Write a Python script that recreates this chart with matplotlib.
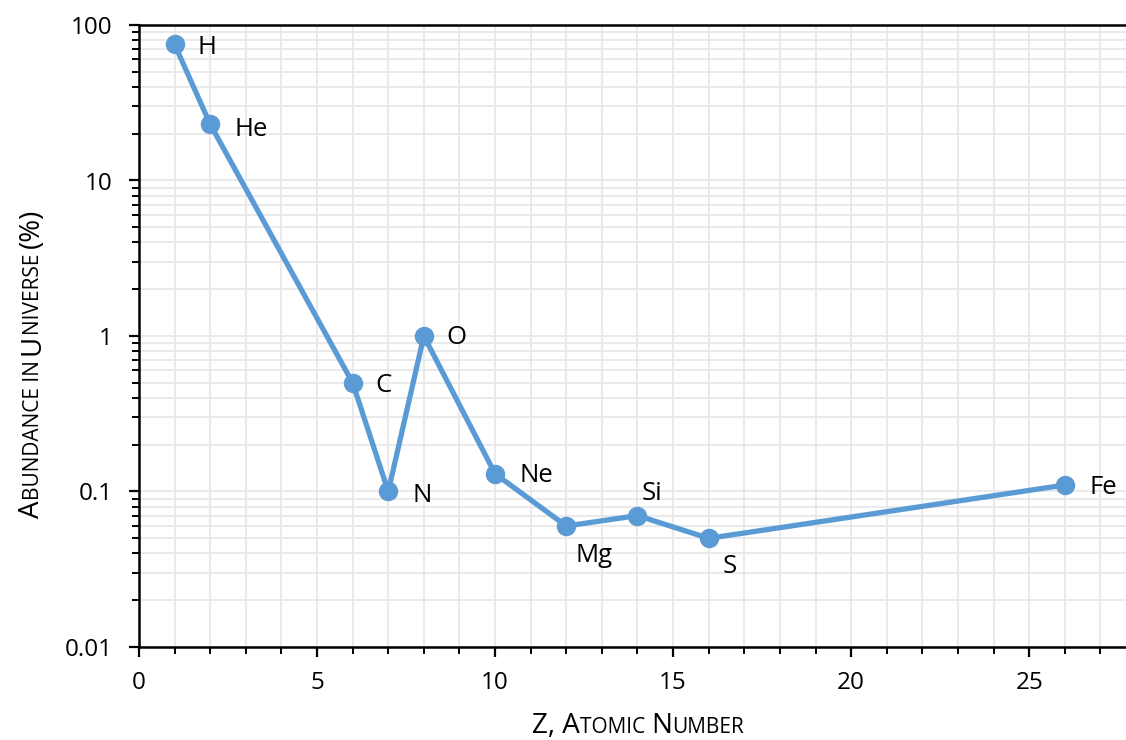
import matplotlib
matplotlib.use("Agg")
import matplotlib.pyplot as plt
from matplotlib.ticker import MultipleLocator, LogLocator, FixedLocator, FixedFormatter, NullFormatter

plt.rcParams['font.family'] = ['Open Sans', 'DejaVu Sans']

# Data
elements = ["H", "He", "C", "N", "O", "Ne", "Mg", "Si", "S", "Fe"]
atomic_number = [1, 2, 6, 7, 8, 10, 12, 14, 16, 26]
abundance = [75, 23, 0.5, 0.1, 1.0, 0.13, 0.06, 0.07, 0.05, 0.11]
y_tick_values = [0.01, 0.1, 1, 10, 100]
y_tick_labels = ["0.01", "0.1", "1", "10", "100"]

# label offsets in pixels (dx, dy up), styles only
label_offsets = {
    "H": (23, -3), "He": (24, -5), "C": (23, -3), "N": (24, -4), "O": (23, -2),
    "Ne": (24, -2), "Mg": (9, -30), "Si": (4, 22), "S": (14, -28), "Fe": (25, -2),
}

W, H = 1126, 740
fig = plt.figure(figsize=(W / 100, H / 100), dpi=100)
ax = fig.add_axes([139 / W, 1 - 647 / H, (1126 - 139) / W, (647 - 25) / H])

color = "#5B9BD5"
ax.plot(atomic_number, abundance, color=color, lw=3.8, marker="o", markersize=13,
        solid_capstyle="round", solid_joinstyle="round", zorder=3, clip_on=False)

for el, xv, yv in zip(elements, atomic_number, abundance):
    dx, dy = label_offsets[el]
    ax.annotate(el, (xv, yv), xytext=(dx * 0.72, dy * 0.72), textcoords="offset points",
                ha="left", va="center", fontsize=18.5, color="black", zorder=4)

ax.set_yscale("log")
ax.set_ylim(0.01, 100)
ax.set_xlim(0, 27.72)

ax.xaxis.set_major_locator(MultipleLocator(5))
ax.xaxis.set_minor_locator(MultipleLocator(1))
ax.yaxis.set_major_locator(FixedLocator(y_tick_values))
ax.yaxis.set_major_formatter(FixedFormatter(y_tick_labels))
ax.yaxis.set_minor_locator(LogLocator(base=10, subs=range(2, 10)))
ax.yaxis.set_minor_formatter(NullFormatter())

ax.grid(True, which="both", color="#e8e8e8", lw=1.3, zorder=0)
ax.set_axisbelow(True)

for s in ["left", "bottom", "top"]:
    ax.spines[s].set_linewidth(1.8)
    ax.spines[s].set_color("black")
ax.spines["right"].set_visible(False)

ax.tick_params(axis="both", which="major", labelsize=17.5, length=7, width=1.6, direction="out")
ax.tick_params(axis="both", which="minor", length=5, width=1.4, direction="out")
ax.tick_params(axis="x", which="major", pad=10)
ax.tick_params(axis="y", which="major", pad=12)


def smallcaps(fig, pieces, x0, y0, rotation=0, center=True):
    """pieces: list of (text, size). Draw sequentially from (x0,y0) in pixels."""
    renderer = fig.canvas.get_renderer()
    widths = []
    for txt, size in pieces:
        t = fig.text(0, 0, txt, fontsize=size)
        bb = t.get_window_extent(renderer)
        widths.append(bb.width)
        t.remove()
    total = sum(widths)
    pos = -total / 2 if center else 0
    for (txt, size), w in zip(pieces, widths):
        if rotation == 0:
            px, py = x0 + pos, y0
        else:
            px, py = x0, y0 + pos
        fig.text(px / W, py / H, txt, fontsize=size, rotation=rotation,
                 rotation_mode="anchor", ha="left", va="baseline")
        pos += w


big, small = 20, 15
smallcaps(fig, [("Z, A", big), ("TOMIC ", small), ("N", big), ("UMBER", small)],
          638, H - 733)
smallcaps(fig, [("A", big), ("BUNDANCE IN ", small), ("U", big), ("NIVERSE ", small), ("(%)", big)],
          39, H - 363, rotation=90)

fig.savefig("out.png", dpi=100)
